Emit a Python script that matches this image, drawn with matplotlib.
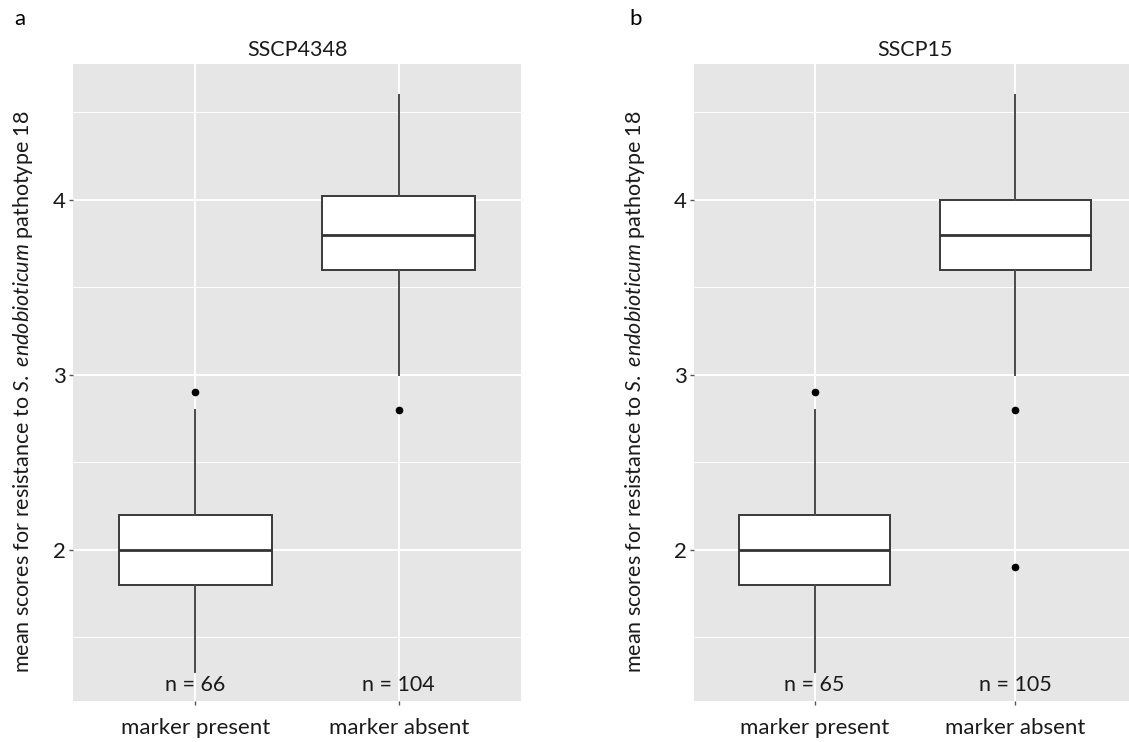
import matplotlib
matplotlib.use("Agg")
import matplotlib.pyplot as plt
from matplotlib.ticker import MultipleLocator

plt.rcParams['font.family'] = ['Lato', 'DejaVu Sans']
plt.rcParams['mathtext.fontset'] = 'custom'
plt.rcParams['mathtext.it'] = 'Lato:italic'
plt.rcParams['mathtext.rm'] = 'Lato'

categories = ["marker present", "marker absent"]
titles = ["SSCP4348", "SSCP15"]
panel_letters = ["a", "b"]

# panel a
a_whislo = [1.3, 3.0]
a_q1 = [1.8, 3.6]
a_med = [2.0, 3.8]
a_q3 = [2.2, 4.02]
a_whishi = [2.8, 4.6]
a_fliers = [[2.9], [2.8]]
a_n = [66, 104]

# panel b
b_whislo = [1.3, 3.0]
b_q1 = [1.8, 3.6]
b_med = [2.0, 3.8]
b_q3 = [2.2, 4.0]
b_whishi = [2.8, 4.6]
b_fliers = [[2.9], [2.8, 1.9]]
b_n = [65, 105]

y_ticks = [2, 3, 4]
n_label_y = 1.23

W, H = 1129, 742
fig = plt.figure(figsize=(W / 100, H / 100), dpi=100)
fig.patch.set_facecolor("white")

def px_axes(x0, x1, y0, y1):
    return fig.add_axes([x0 / W, 1 - y1 / H, (x1 - x0) / W, (y1 - y0) / H])

axes = [px_axes(73, 521, 64, 701), px_axes(694, 1136, 64, 701)]
ylabel_x_px = [23, 635]
panels = [
    (a_whislo, a_q1, a_med, a_q3, a_whishi, a_fliers, a_n),
    (b_whislo, b_q1, b_med, b_q3, b_whishi, b_fliers, b_n),
]

ylabel_text = "mean scores for resistance to $\\it{S.}$ $\\it{endobioticum}$ pathotype 18"

for i, (ax, data) in enumerate(zip(axes, panels)):
    wlo, q1, med, q3, whi, fl, n = data
    stats = []
    for k in range(len(categories)):
        stats.append(dict(whislo=wlo[k], q1=q1[k], med=med[k], q3=q3[k],
                          whishi=whi[k], fliers=fl[k], label=categories[k]))
    pos = list(range(1, len(categories) + 1))
    ax.set_facecolor("#E6E6E6")
    ax.bxp(stats, positions=pos, widths=0.75, patch_artist=True, showcaps=False,
           boxprops=dict(facecolor="white", edgecolor="#3a3a3a", linewidth=1.4),
           medianprops=dict(color="#333333", linewidth=2.0),
           whiskerprops=dict(color="#4a4a4a", linewidth=1.4),
           flierprops=dict(marker="o", markerfacecolor="black", markeredgecolor="black",
                           markersize=4.5, linestyle="none"),
           zorder=3)
    ax.set_xlim(0.4, 2.6)
    ax.set_ylim(1.137, 4.777)
    ax.set_yticks(y_ticks)
    ax.yaxis.set_minor_locator(MultipleLocator(0.5))
    ax.set_xticks(pos)
    ax.set_xticklabels(categories, fontsize=16, color="#1a1a1a")
    ax.tick_params(axis="y", which="major", labelsize=16, labelcolor="#1a1a1a",
                   length=3, width=1, color="#555555", pad=2)
    ax.tick_params(axis="y", which="minor", length=0)
    ax.tick_params(axis="x", length=3, width=1, color="#555555", pad=9)
    ax.grid(which="major", color="white", linewidth=1.4, zorder=0)
    ax.grid(which="minor", axis="y", color="white", linewidth=0.7, zorder=0)
    ax.set_axisbelow(True)
    for s in ax.spines.values():
        s.set_visible(False)
    for k in range(len(categories)):
        ax.text(pos[k], n_label_y, f"n = {n[k]}", ha="center", va="center",
                fontsize=15.5, color="#1a1a1a", zorder=4)
    ax.set_title(titles[i], fontsize=15.5, color="#1a1a1a", pad=6)
    ax.set_ylabel(ylabel_text, fontsize=15.5, color="#1a1a1a")
    bb = ax.get_position()
    lx = (ylabel_x_px[i] / W - bb.x0) / bb.width
    ly = ((1 - 392 / H) - bb.y0) / bb.height
    ax.yaxis.label.set_va("center")
    ax.yaxis.set_label_coords(lx, ly)

fig.text(20 / W, 1 - 19 / H, panel_letters[0], fontsize=16, ha="center", va="center")
fig.text(636 / W, 1 - 19 / H, panel_letters[1], fontsize=16, ha="center", va="center")

fig.savefig("out.png", dpi=100, facecolor="white")
